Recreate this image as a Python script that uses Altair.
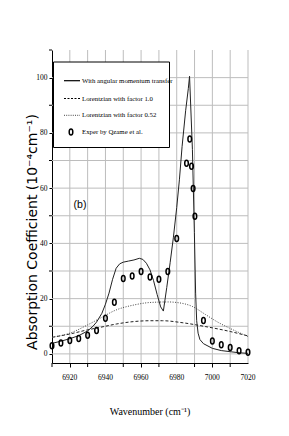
import altair as alt
import pandas as pd

# Solid curve: with angular momentum transfer
solid_x = [6910, 6915, 6920, 6925, 6930, 6933, 6935, 6938, 6940, 6942, 6944, 6946,
           6948, 6950, 6953, 6956, 6959, 6961, 6963, 6965, 6967, 6969, 6971, 6972.5,
           6974.4, 6976.3, 6978.1, 6980, 6981.5, 6983, 6985, 6986.5, 6987.2, 6988.8,
           6989.9, 6990.6, 6991.2, 6992, 6993, 6995, 7000, 7005, 7010, 7015, 7020]
solid_y = [3.8, 4.6, 5.5, 6.6, 8.3, 10.0, 11.5, 14.7, 18.0, 22.0, 27.0, 31.0,
           32.6, 33.2, 33.6, 34.0, 34.6, 34.2, 32.8, 30.4, 26.5, 21.5, 17.0, 15.5,
           24.0, 33.0, 42.0, 53.0, 63.0, 75.0, 88.0, 96.0, 100.5, 74.0,
           44.0, 22.0, 12.0, 7.5, 5.2, 3.7, 2.0, 1.2, 0.8, 0.4, 0.2]

# Lorentzian with factor 1.0 (dashed)
l1_x = [6910, 6920, 6930, 6937, 6946, 6956, 6965, 6972, 6983, 6996, 7010, 7020]
l1_y = [6.0, 7.2, 8.7, 9.6, 10.8, 11.7, 12.0, 12.0, 11.3, 9.9, 8.1, 6.5]

# Lorentzian with factor 0.52 (dotted)
l2_x = [6910, 6920, 6930, 6937, 6946, 6956, 6965, 6975, 6980, 6989, 6996, 7003, 7010, 7020]
l2_y = [6.0, 7.5, 10.5, 12.9, 15.9, 17.7, 18.6, 18.8, 18.6, 17.1, 14.3, 11.5, 9.2, 6.3]

# Experimental points
exp_x = [6910, 6915, 6920, 6925, 6930, 6935, 6940, 6945, 6950, 6955, 6960, 6965,
         6970, 6975, 6980, 6985.5, 6987.3, 6988.3, 6989.2, 6990.2, 6995, 7000,
         7005, 7010, 7015, 7020]
exp_y = [2.9, 3.9, 4.8, 5.6, 6.7, 8.5, 12.9, 18.7, 27.3, 28.2, 29.8, 27.8,
         27.0, 29.8, 41.8, 69.0, 77.8, 67.9, 59.9, 49.8, 12.1, 4.7,
         3.3, 2.3, 1.1, 0.6]

legend_labels = ["With angular momentum transfer", "Lorentzian with factor 1.0",
                 "Lorentzian with factor 0.52", "Exper by Qzame et al."]
x_title = "Wavenumber (cm⁻¹)"
y_title = "Absorption Coefficient (10⁻⁴cm⁻¹)"
panel_label = "(b)"

x_labels = [6920, 6940, 6960, 6980, 7000, 7020]
x_minor = [6910, 6930, 6950, 6970, 6990, 7010]
x_grid = [6920, 6930, 6940, 6950, 6960, 6970, 6980, 6990, 7000, 7010, 7020]
y_labels = [0, 20, 40, 60, 80, 100]
y_minor = [10, 30, 50, 70, 90, 110]
y_grid = [0, 10, 20, 30, 40, 50, 60, 70, 80, 90, 100]

df_solid = pd.DataFrame({"x": solid_x, "y": solid_y})
df_l1 = pd.DataFrame({"x": l1_x, "y": l1_y})
df_l2 = pd.DataFrame({"x": l2_x, "y": l2_y})
df_exp = pd.DataFrame({"x": exp_x, "y": exp_y})

SERIF = "Liberation Serif"
ELLIPSE = "M0,-1 A0.6,1 0 1,1 0,1 A0.6,1 0 1,1 0,-1 Z"
GRID = "#bdbdbd"
W, H = 196, 313

xscale = alt.Scale(domain=[6910, 7020], nice=False, zero=False)
yscale = alt.Scale(domain=[-3.3, 110], nice=False, zero=False)

# gridlines and minor ticks drawn from the tick arrays through the scales
vgrid = alt.Chart(pd.DataFrame({"x": x_grid})).mark_rule(color=GRID, strokeWidth=1).encode(
    x=alt.X("x:Q", scale=xscale, axis=alt.Axis(values=x_labels, labels=False, title=None)),
    y=alt.value(0), y2=alt.value(H))
hgrid = alt.Chart(pd.DataFrame({"y": y_grid})).mark_rule(color=GRID, strokeWidth=1).encode(
    y=alt.Y("y:Q", scale=yscale, axis=alt.Axis(values=y_labels, format="d", title=None)),
    x=alt.value(0), x2=alt.value(W))
xminor = alt.Chart(pd.DataFrame({"x": x_minor})).mark_rule(color="black", strokeWidth=1).encode(
    x=alt.X("x:Q", scale=xscale), y=alt.value(H), y2=alt.value(H + 4))
yminor = alt.Chart(pd.DataFrame({"y": y_minor})).mark_rule(color="black", strokeWidth=1).encode(
    y=alt.Y("y:Q", scale=yscale), x=alt.value(-3), x2=alt.value(0))
xlab = alt.Chart(pd.DataFrame({"x": x_labels})).mark_text(
    font=SERIF, fontSize=7.5, color="black", baseline="middle", align="center").encode(
    x=alt.X("x:Q", scale=xscale), y=alt.value(H + 15), text=alt.Text("x:Q", format="d"))

solid = alt.Chart(df_solid).mark_line(color="#222222", strokeWidth=1).encode(
    x=alt.X("x:Q", scale=xscale), y=alt.Y("y:Q", scale=yscale))
l1 = alt.Chart(df_l1).mark_line(color="#222222", strokeWidth=1, strokeDash=[3, 2], interpolate="monotone").encode(
    x=alt.X("x:Q", scale=xscale), y=alt.Y("y:Q", scale=yscale))
l2 = alt.Chart(df_l2).mark_line(color="#444444", strokeWidth=1, strokeDash=[1, 1.5], interpolate="monotone").encode(
    x=alt.X("x:Q", scale=xscale), y=alt.Y("y:Q", scale=yscale))
pts = alt.Chart(df_exp).mark_point(shape=ELLIPSE, size=36, filled=False, color="black",
                                   strokeWidth=1.5, opacity=1).encode(
    x=alt.X("x:Q", scale=xscale), y=alt.Y("y:Q", scale=yscale))

one = alt.Data(values=[{}])
box = alt.Chart(one).mark_rect(fill="white", stroke="black", strokeWidth=1).encode(
    x=alt.value(1.5), x2=alt.value(117.5), y=alt.value(12), y2=alt.value(97.5))

rows_y = [30.7, 48.5, 65.3, 82]
leg_layers = [box]
leg_layers.append(alt.Chart(one).mark_rule(color="black", strokeWidth=1.2).encode(
    x=alt.value(12), x2=alt.value(28), y=alt.value(rows_y[0])))
leg_layers.append(alt.Chart(one).mark_rule(color="black", strokeWidth=1, strokeDash=[2, 1.5]).encode(
    x=alt.value(12), x2=alt.value(28), y=alt.value(rows_y[1])))
leg_layers.append(alt.Chart(one).mark_rule(color="#444444", strokeWidth=1, strokeDash=[1, 1.2]).encode(
    x=alt.value(12), x2=alt.value(28), y=alt.value(rows_y[2])))
leg_layers.append(alt.Chart(one).mark_point(shape=ELLIPSE, size=36, filled=False, color="black",
                                            strokeWidth=1.5, opacity=1).encode(
    x=alt.value(19), y=alt.value(rows_y[3])))
for lbl, yy in zip(legend_labels, rows_y):
    leg_layers.append(alt.Chart(one).mark_text(align="left", baseline="middle", font=SERIF,
                                               fontSize=6.8, color="black").encode(
        x=alt.value(30), y=alt.value(yy), text=alt.value(lbl)))

label_b = alt.Chart(one).mark_text(align="center", baseline="middle", font="Liberation Sans",
                                   fontSize=10.5, color="black").encode(
    x=alt.value(28), y=alt.value(155), text=alt.value(panel_label))

xt = alt.Chart(one).mark_text(align="center", baseline="middle", font=SERIF,
                              fontSize=10, color="black").encode(
    x=alt.value(W / 2), y=alt.value(362), text=alt.value(x_title))
yt = alt.Chart(one).mark_text(align="center", baseline="middle", font="DejaVu Sans",
                              fontSize=14, angle=270, color="black").encode(
    x=alt.value(-19), y=alt.value(182), text=alt.value(y_title))

chart = alt.layer(vgrid, hgrid, xminor, yminor, xlab, solid, l1, l2, pts, *leg_layers,
                  label_b, xt, yt).properties(
    width=W, height=H,
    autosize=alt.AutoSizeParams(type="none"),
    padding={"left": 44, "top": 42, "right": 25, "bottom": 60},
    background="white",
).configure_view(stroke=None).configure_axis(
    domainColor="black", tickColor="black", grid=False,
    labelFont=SERIF, labelFontSize=7.5, labelColor="black",
    labelOverlap=False, labelFlush=False,
).configure_axisX(tickSize=4).configure_axisY(tickSize=3, labelPadding=2)

chart.save("out.html", embed_options={"renderer": "svg", "actions": False})
